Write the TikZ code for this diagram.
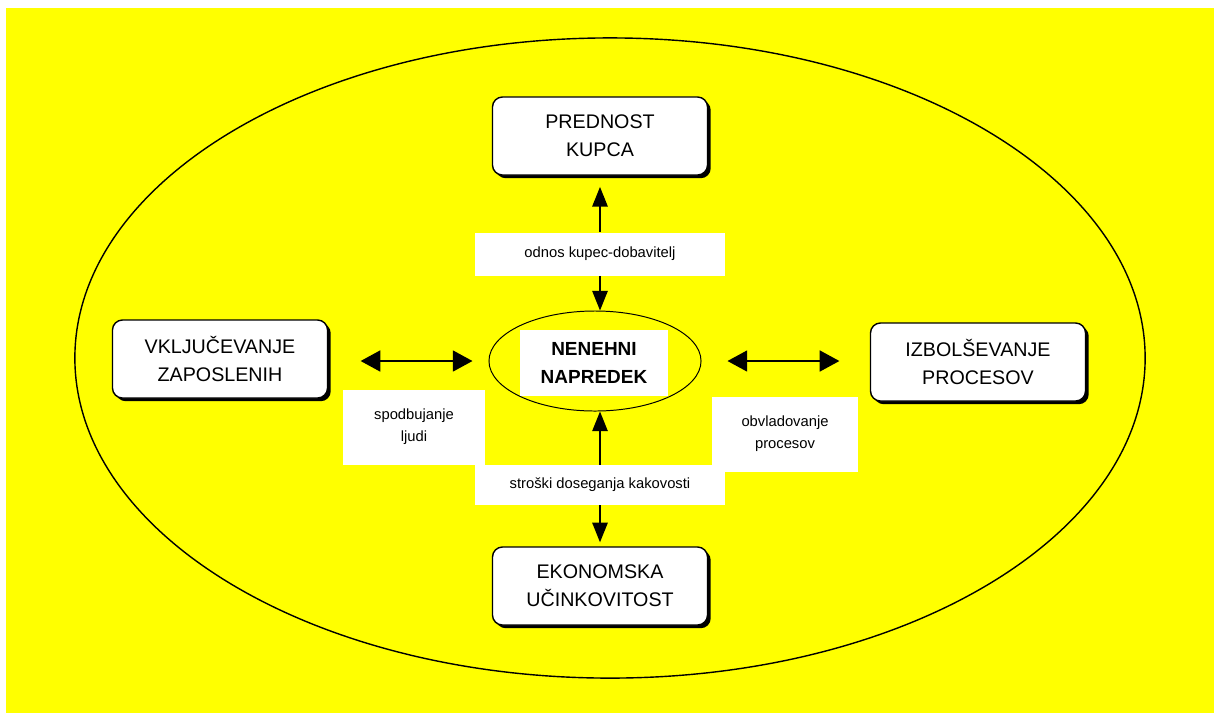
\documentclass[tikz,border=0pt]{standalone}
\usepackage{fontspec}
\setmainfont{Liberation Sans}
\usetikzlibrary{arrows.meta,shapes.geometric,shadows}
\definecolor{rumena}{RGB}{255,255,0}

\begin{document}
\begin{tikzpicture}[x=0.025cm,y=-0.025cm,
    cilj/.style={draw, line width=1pt, rounded corners=0.25cm, fill=white,
      minimum width=5.375cm, minimum height=1.95cm, align=center,
      font=\fontsize{14}{20}\selectfont,
      drop shadow={shadow xshift=0.08cm, shadow yshift=-0.08cm, fill=black, opacity=1}},
    napis/.style={fill=white, align=center, inner sep=0pt, font=\fontsize{10.5}{15.5}\selectfont},
    puscica/.style={-{Triangle[width=11pt,length=14pt]}, line width=1pt},
    dvojna/.style={{Triangle[width=15pt,length=14pt]}-{Triangle[width=15pt,length=14pt]}, line width=1pt}]
    \useasboundingbox (0,0) rectangle (1214,713);
    \fill[white] (0,0) rectangle (1214,713);
    \fill[rumena] (6,8) rectangle (1214,713);
    \draw[line width=1pt] (610,358) ellipse [x radius=13.375cm, y radius=8cm];

    % cilji
    \node[cilj] (kupec) at (600,136) {PREDNOST\\KUPCA};
    \node[cilj] (zaposleni) at (220,359) {VKLJUČEVANJE\\ZAPOSLENIH};
    \node[cilj] (procesi) at (978,362) {IZBOLŠEVANJE\\PROCESOV};
    \node[cilj] (ucinek) at (600,586) {EKONOMSKA\\UČINKOVITOST};

    % sredina
    \node[ellipse, draw, line width=0.7pt, minimum width=5.3cm, minimum height=2.5cm] (napredek) at (595,361) {};
    \node[fill=white, minimum width=3.7cm, minimum height=1.65cm, align=center,
      font=\bfseries\fontsize{13.5}{20.5}\selectfont] (naslov) at (594,363) {NENEHNI\\NAPREDEK};

    % napisi
    \node[napis, minimum width=6.25cm, minimum height=1.075cm] (odnos) at (600,254) {odnos kupec-dobavitelj};
    \node[napis, minimum width=3.55cm, minimum height=1.875cm] (ljudje) at (414,427) {spodbujanje\\ljudi};
    \node[napis, minimum width=3.65cm, minimum height=1.875cm] (obvladovanje) at (785,434) {obvladovanje\\procesov};
    \node[napis, minimum width=6.25cm, minimum height=1cm] (stroski) at (600,485) {stroški doseganja kakovosti};

    % puscice
    \draw[puscica, shorten >=0.28cm] (odnos) -- (kupec);
    \draw[puscica] (odnos.south) -- (odnos.south |- napredek.north);
    \draw[puscica] (stroski.north) -- (stroski.north |- napredek.south);
    \draw[puscica, shorten >=0.1cm] (stroski) -- (ucinek);
    \draw[dvojna, shorten <=0.81cm, shorten >=0.4cm] (zaposleni.east |- napredek.west) -- (napredek.west);
    \draw[dvojna, shorten <=0.65cm, shorten >=0.76cm] (napredek.east) -- (napredek.east -| procesi.west);
\end{tikzpicture}
\end{document}
